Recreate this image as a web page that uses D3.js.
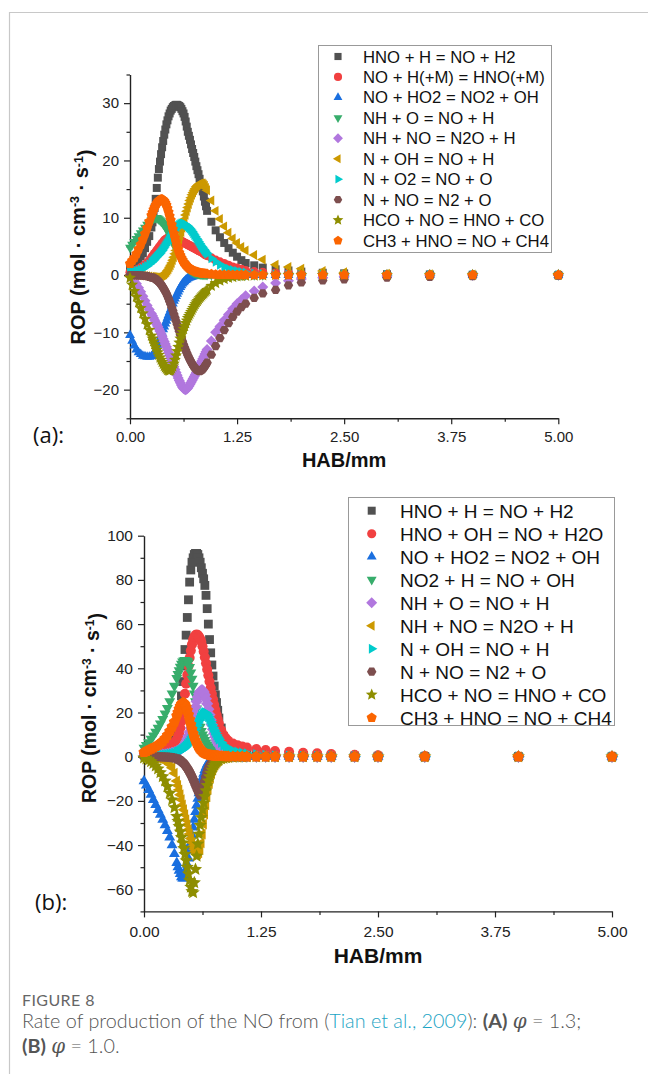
<!DOCTYPE html>
<html><head><meta charset="utf-8">
<script src="https://cdn.jsdelivr.net/npm/d3@7"></script>
<style>
html,body{margin:0;padding:0;background:#fff;}
svg{display:block;}
</style></head>
<body>
<svg id="chart" width="648" height="1074"></svg>
<script>
// ---------------- DATA ----------------
// HAB positions (mm) of the plotted points, panel (a)
const xA = [0,0.025,0.05,0.075,0.1,0.125,0.15,0.175,0.2,0.225,
  0.25,0.2625,0.275,0.2875,0.3,0.3125,0.325,0.3375,0.35,0.3625,0.375,0.3875,0.4,0.4125,0.425,0.4375,0.45,0.4625,0.475,0.4875,
  0.5,0.5125,0.525,0.5375,0.55,0.5625,0.575,0.5875,0.6,0.6125,0.625,0.6375,0.65,0.6625,0.675,0.6875,0.7,0.7125,0.725,0.7375,
  0.75,0.7625,0.775,0.7875,0.8,0.8125,0.825,0.8375,0.85,0.8625,0.875,0.8875,0.9,
  0.95,1.0,1.05,1.1,1.15,1.2,1.25,1.3,
  1.35,1.45,1.55,
  1.7,1.85,2.0,2.25,2.5,3.0,3.5,4.0,5.0];
// HAB positions (mm) of the plotted points, panel (b)
const xB = [0,0.025,0.05,0.075,0.1,0.125,0.15,0.175,0.2,0.225,0.25,0.275,0.3,0.325,
  0.35,0.3625,0.375,0.3875,0.4,0.4125,0.425,0.4375,0.45,0.4625,0.475,0.4875,0.5,0.5125,0.525,0.5375,0.55,0.5625,0.575,0.5875,
  0.6,0.6125,0.625,0.6375,0.65,0.6625,0.675,0.6875,0.7,0.7125,0.725,0.7375,0.75,0.7625,0.775,0.7875,0.8,
  0.825,0.85,0.875,0.9,
  0.95,1.0,1.05,1.1,
  1.2,1.3,1.4,
  1.55,1.7,1.85,2.0,2.25,2.5,3.0,4.0,5.0];

// Panel (a): phi = 1.3  (ROP values)
const A_HNO_H = [1.5,1.7,2.0,2.4,2.8,3.3,3.8,4.7,5.8,6.8,
  8.3,9.2,10.3,11.7,13.3,15.2,17.0,18.5,19.8,21.1,22.3,23.4,24.5,25.4,26.3,27.0,27.7,28.2,28.7,29.0,
  29.3,29.5,29.6,29.7,29.7,29.6,29.5,29.3,29.0,28.6,28.2,27.6,26.8,25.9,25.0,24.3,23.6,22.8,22.0,21.3,
  20.6,19.8,19.0,18.3,17.6,16.8,16.0,15.3,14.6,13.7,12.8,12.0,11.2,
  9.3,7.8,6.6,5.6,4.7,3.9,3.2,2.6,
  2.1,1.7,1.3,
  1.0,0.8,0.6,0.4,0.3,0.15,0.1,0.05,0];
const A_NO_H_M = [0.5,0.6,0.7,0.85,1.0,1.25,1.5,1.8,2.1,2.5,
  3.0,3.25,3.5,3.75,4.0,4.25,4.5,4.75,5.0,5.25,5.5,5.75,6.0,6.15,6.3,6.4,6.5,6.55,6.6,6.6,
  6.6,6.55,6.5,6.4,6.3,6.2,6.1,6.0,5.9,5.8,5.7,5.6,5.5,5.4,5.3,5.2,5.1,5.0,4.9,4.8,
  4.7,4.6,4.5,4.4,4.3,4.2,4.1,4.0,3.9,3.75,3.6,3.5,3.4,
  3.0,2.6,2.3,2.0,1.7,1.4,1.2,1.0,
  0.8,0.6,0.5,
  0.35,0.3,0.2,0.15,0.1,0.05,0.03,0.02,0];
const A_NO_HO2 = [-10.5,-11.5,-12.3,-13.0,-13.5,-13.8,-14.1,-14.2,-14.3,-14.3,
  -14.2,-14.0,-13.8,-13.5,-13.1,-12.7,-12.2,-11.7,-11.2,-10.7,-10.1,-9.5,-9.0,-8.5,-8.0,-7.5,-7.0,-6.5,-6.0,-5.5,
  -5.0,-4.5,-4.1,-3.7,-3.3,-2.9,-2.5,-2.1,-1.8,-1.5,-1.3,-1.1,-0.9,-0.75,-0.6,-0.5,-0.4,-0.35,-0.3,-0.25,
  -0.2,-0.17,-0.15,-0.12,-0.1,-0.09,-0.08,-0.07,-0.06,-0.05,-0.05,-0.04,-0.04,
  -0.03,-0.02,-0.02,-0.01,-0.01,0,0,0,
  0,0,0,
  0,0,0,0,0,0,0,0,0];
const A_NH_O = [4.8,5.3,5.8,6.3,6.8,7.3,7.8,8.3,8.8,9.2,
  9.6,9.75,9.9,9.97,10.0,9.97,9.9,9.75,9.6,9.4,9.2,8.95,8.7,8.4,8.1,7.75,7.4,7.0,6.6,6.2,
  5.8,5.4,5.0,4.6,4.2,3.8,3.4,3.05,2.7,2.4,2.1,1.85,1.6,1.4,1.2,1.05,0.9,0.75,0.6,0.5,
  0.4,0.35,0.3,0.25,0.2,0.17,0.15,0.12,0.1,0.09,0.08,0.07,0.06,
  0.05,0.04,0.03,0.02,0.02,0.01,0.01,0,
  0,0,0,
  0,0,0,0,0,0,0,0,0];
const A_NH_NO = [0,-0.4,-0.8,-1.5,-2.2,-2.9,-3.7,-4.5,-5.3,-6.0,
  -6.7,-7.1,-7.5,-7.9,-8.3,-8.65,-9.0,-9.4,-9.8,-10.25,-10.7,-11.15,-11.6,-12.05,-12.5,-13.0,-13.5,-14.0,-14.5,-15.0,
  -15.5,-16.0,-16.5,-17.0,-17.5,-17.95,-18.4,-18.8,-19.2,-19.55,-19.8,-19.95,-20.0,-19.9,-19.7,-19.4,-19.1,-18.75,-18.4,-18.05,
  -17.7,-17.35,-17.0,-16.6,-16.2,-15.8,-15.4,-15.0,-14.6,-14.2,-13.8,-13.4,-13.0,
  -11.5,-10.0,-9.0,-7.9,-6.9,-5.9,-5.0,-4.3,
  -3.6,-2.8,-2.1,
  -1.4,-1.0,-0.7,-0.45,-0.3,-0.15,-0.1,-0.05,0];
const A_N_OH = [0,0,0,-0.02,-0.05,-0.07,-0.1,-0.15,-0.2,-0.25,
  -0.3,-0.33,-0.35,-0.38,-0.4,-0.4,-0.4,-0.36,-0.3,-0.2,-0.1,0.0,0.1,0.3,0.5,0.75,1.0,1.35,1.7,2.1,
  2.6,3.1,3.7,4.3,4.9,5.55,6.2,6.85,7.5,8.25,9.0,9.75,10.5,11.15,11.8,12.4,13.0,13.5,14.0,14.4,
  14.8,15.1,15.4,15.6,15.8,15.9,16.0,16.0,16.0,15.8,15.6,15.2,14.8,
  13.0,11.2,9.8,8.5,7.4,6.4,5.6,4.9,
  4.3,3.5,2.7,
  1.8,1.4,1.1,0.7,0.5,0.25,0.15,0.1,0.05];
const A_N_O2 = [0.5,0.55,0.6,0.7,0.8,0.95,1.1,1.35,1.6,1.9,
  2.2,2.4,2.6,2.8,3.0,3.2,3.4,3.6,3.8,4.05,4.3,4.6,4.9,5.2,5.5,5.8,6.1,6.4,6.7,7.0,
  7.3,7.6,7.9,8.15,8.4,8.6,8.8,8.9,9.0,9.02,9.0,8.9,8.8,8.65,8.5,8.3,8.1,7.85,7.6,7.3,
  7.0,6.7,6.4,6.1,5.8,5.5,5.2,4.95,4.7,4.45,4.2,3.95,3.7,
  2.9,2.3,1.8,1.4,1.1,0.9,0.7,0.55,
  0.45,0.3,0.2,
  0.1,0.05,0.03,0.02,0.01,0,0,0,0];
const A_N_NO = [0,0,0,0,-0.05,-0.07,-0.1,-0.15,-0.2,-0.3,
  -0.4,-0.45,-0.5,-0.6,-0.7,-0.85,-1.0,-1.2,-1.4,-1.65,-1.9,-2.2,-2.5,-2.85,-3.2,-3.65,-4.1,-4.6,-5.1,-5.65,
  -6.2,-6.8,-7.4,-8.0,-8.6,-9.2,-9.8,-10.4,-11.0,-11.55,-12.1,-12.6,-13.1,-13.55,-14.0,-14.4,-14.8,-15.15,-15.5,-15.8,
  -16.1,-16.3,-16.5,-16.6,-16.7,-16.75,-16.7,-16.55,-16.4,-16.15,-15.9,-15.6,-15.3,
  -13.9,-12.4,-11.0,-9.6,-8.4,-7.3,-6.4,-5.6,
  -5.0,-4.0,-3.2,
  -2.6,-1.8,-1.3,-0.95,-0.75,-0.45,-0.3,-0.2,-0.1];
const A_HCO_NO = [-0.5,-1.7,-2.8,-3.8,-4.8,-5.8,-6.7,-7.7,-8.6,-9.6,
  -10.6,-11.1,-11.6,-12.1,-12.6,-13.05,-13.5,-13.95,-14.4,-14.8,-15.2,-15.55,-15.9,-16.15,-16.4,-16.6,-16.7,-16.7,-16.6,-16.35,
  -16.0,-15.45,-14.8,-14.05,-13.3,-12.55,-11.8,-11.1,-10.5,-9.95,-9.4,-8.9,-8.4,-7.95,-7.5,-7.15,-6.8,-6.45,-6.1,-5.75,
  -5.4,-5.1,-4.8,-4.55,-4.3,-4.05,-3.8,-3.6,-3.4,-3.2,-3.0,-2.8,-2.6,
  -1.9,-1.4,-1.0,-0.7,-0.5,-0.35,-0.25,-0.2,
  -0.15,-0.1,-0.05,
  0,0,0,0,0,0,0,0,0];
const A_CH3_HNO = [2.0,2.5,3.0,3.7,4.5,5.3,6.2,7.2,8.2,9.3,
  10.4,10.9,11.4,11.8,12.2,12.5,12.8,13.0,13.1,13.2,13.2,13.1,12.9,12.6,12.2,11.65,11.0,10.3,9.6,8.8,
  8.0,7.25,6.5,5.8,5.1,4.5,3.9,3.45,3.0,2.65,2.3,2.05,1.8,1.6,1.4,1.25,1.1,1.0,0.9,0.8,
  0.7,0.62,0.55,0.5,0.45,0.4,0.35,0.32,0.3,0.27,0.25,0.22,0.2,
  0.15,0.1,0.08,0.06,0.05,0.04,0.03,0.02,
  0.02,0.01,0.01,
  0,0,0,0,0,0,0,0,0];

// Panel (b): phi = 1.0  (ROP values)
const B_HNO_H = [1.0,1.15,1.3,1.5,1.7,2.0,2.3,2.7,3.2,3.8,4.6,5.6,6.8,8.3,
  10,13,17,22,27.5,34,41,48.5,55,63,71,79,84.5,88,90,91.5,92,92,91.5,90,
  88,85.5,83,80.5,77.5,73,67,60,53,47,41.5,36.5,32,28,24.5,21,17.5,
  13,9,6,4.5,
  3.2,2.6,2.2,1.9,
  1.4,1.1,0.9,
  0.7,0.55,0.45,0.35,0.25,0.2,0.1,0.05,0];
const B_HNO_OH = [1.5,1.75,2.0,2.25,2.5,2.75,3.0,3.3,3.6,4.0,4.5,5.0,5.6,6.5,
  7.8,9,10.5,13,16,19.8,24,28.5,33,37,41,44.8,48,50.8,53,54.3,55,55.3,55,54.4,
  53.5,52,50,47.6,45,42.3,39.5,36.8,34,31.2,28.5,26,23.5,21.2,19,17,15,
  12,9.8,8.3,7.2,
  5.9,5.2,4.6,4.1,
  3.5,3.0,2.6,
  2.2,1.8,1.5,1.2,0.9,0.6,0.3,0.1,0.05];
const B_NO_HO2 = [-11,-13,-15,-17.2,-19.5,-21.8,-24,-26.2,-28.5,-31,-33.5,-36.5,-40,-44,
  -48,-50,-51.5,-53,-54.5,-55,-55,-53.5,-51,-48.8,-46,-42.5,-39,-35.5,-32,-28.5,-25,-22,-19,-16.5,
  -14,-11.7,-9.5,-7.7,-6,-4.7,-3.5,-2.7,-2,-1.6,-1.2,-0.9,-0.7,-0.55,-0.4,-0.35,-0.3,
  -0.2,-0.15,-0.1,-0.1,
  -0.05,-0.05,0,0,
  0,0,0,
  0,0,0,0,0,0,0,0,0];
const B_NO2_H = [4,5.2,6.5,8,9.5,11.2,13,15,17,19.5,22,25,28.5,32,
  35.5,37.3,39,40.6,42,43,43.5,43.7,43.5,43.2,42.5,40.5,38,35.2,32,28.5,25,21.7,18.5,15.8,
  13.5,11.6,10,8.7,7.5,6.4,5.5,4.7,4.0,3.4,2.9,2.5,2.1,1.8,1.5,1.3,1.1,
  0.8,0.6,0.45,0.35,
  0.25,0.18,0.12,0.1,
  0.05,0.03,0.02,
  0,0,0,0,0,0,0,0,0];
const B_NH_O = [0.3,0.35,0.4,0.45,0.5,0.6,0.7,0.8,0.9,1.0,1.2,1.4,1.7,2.0,
  2.4,2.7,3.0,3.4,3.8,4.3,5.0,5.8,6.8,8.0,9.5,11.2,13,15.2,17.5,20,22.5,25,27,28.5,
  29.5,30,30,29.3,28,26.2,24,21.5,19,16.7,14.5,12.4,10.5,8.9,7.5,6.3,5.2,
  3.6,2.5,1.8,1.3,
  0.8,0.5,0.35,0.25,
  0.15,0.1,0.05,
  0,0,0,0,0,0,0,0,0];
const B_NH_NO = [0,-0.05,-0.1,-0.2,-0.3,-0.5,-0.7,-1.0,-1.3,-1.8,-2.5,-3.5,-5,-7.5,
  -11,-13,-15,-17.2,-19.5,-21.8,-24,-26.2,-28.5,-30.8,-33,-35,-37,-38.8,-40.5,-41.9,-43,-43.7,-44,-43.5,
  -42,-39,-35,-30.5,-26,-21.8,-18,-14.8,-12,-9.6,-7.5,-5.9,-4.5,-3.5,-2.7,-2.1,-1.6,
  -1.0,-0.6,-0.4,-0.3,
  -0.2,-0.1,-0.05,0,
  0,0,0,
  0,0,0,0,0,0,0,0,0];
const B_N_OH = [0.3,0.35,0.4,0.45,0.5,0.55,0.6,0.7,0.8,0.9,1.0,1.2,1.4,1.7,
  2.0,2.2,2.4,2.7,3.0,3.4,3.8,4.3,4.8,5.5,6.2,7.1,8,9.1,10.2,11.4,12.7,14,15.2,16.4,
  17.5,18.4,19.2,19.7,20,19.7,19,18.1,17,15.8,14.5,13.2,12,10.9,9.8,8.8,7.9,
  6.4,5.2,4.3,3.6,
  2.7,2.1,1.7,1.4,
  1.0,0.7,0.5,
  0.35,0.25,0.2,0.15,0.1,0.05,0,0,0];
const B_N_NO = [0,0,0,0,0,0,0,-0.05,-0.1,-0.15,-0.2,-0.3,-0.4,-0.6,
  -0.9,-1.1,-1.4,-1.7,-2.1,-2.6,-3.1,-3.7,-4.4,-5.2,-6.0,-7.0,-8.0,-9.1,-10.3,-11.5,-12.8,-14.0,-15.3,-16.4,
  -17.3,-17.2,-15,-13,-11,-9,-7,-5.5,-4.2,-3.3,-2.6,-2.1,-1.6,-1.3,-1.0,-0.8,-0.6,
  -0.4,-0.3,-0.2,-0.15,
  -0.1,-0.05,0,0,
  0,0,0,
  0,0,0,0,0,0,0,0,0];
const B_HCO_NO = [-0.5,-1.0,-1.5,-2.2,-3,-4.2,-5.5,-7.2,-9,-11,-13.5,-16.5,-19.5,-23,
  -27,-29.2,-31.5,-34,-36.5,-39,-41.5,-44.2,-47,-50,-53,-56,-59,-61,-61.5,-57,-51,-45,-39.5,-35,
  -31,-27.5,-24,-21,-18,-15.4,-13,-10.9,-9,-7.4,-6,-4.8,-3.8,-3.0,-2.3,-1.8,-1.4,
  -0.9,-0.6,-0.4,-0.3,
  -0.2,-0.1,-0.05,0,
  0,0,0,
  0,0,0,0,0,0,0,0,0];
const B_CH3_HNO = [2.0,2.5,3.0,3.5,4.0,4.6,5.3,6.1,7.0,8.2,9.7,11.5,13.5,15.7,
  18.5,20,21.5,22.8,23.8,24.3,24.3,23.6,22.5,21,19,16.8,14.5,12.4,10.5,8.8,7.3,6.1,5,4.1,
  3.4,2.8,2.3,1.9,1.6,1.3,1.1,0.95,0.8,0.7,0.6,0.52,0.45,0.4,0.35,0.32,0.3,
  0.25,0.2,0.15,0.1,
  0.08,0.05,0.04,0.03,
  0.02,0.01,0.01,
  0,0,0,0,0,0,0,0,0];

const labelsA = ["HNO + H = NO + H2","NO + H(+M) = HNO(+M)","NO + HO2 = NO2 + OH","NH + O = NO + H",
  "NH + NO = N2O + H","N + OH = NO + H","N + O2 = NO + O","N + NO = N2 + O","HCO + NO = HNO + CO","CH3 + HNO = NO + CH4"];
const labelsB = ["HNO + H = NO + H2","HNO + OH = NO + H2O","NO + HO2 = NO2 + OH","NO2 + H = NO + OH",
  "NH + O = NO + H","NH + NO = N2O + H","N + OH = NO + H","N + NO = N2 + O","HCO + NO = HNO + CO","CH3 + HNO = NO + CH4"];
const seriesA = [A_HNO_H,A_NO_H_M,A_NO_HO2,A_NH_O,A_NH_NO,A_N_OH,A_N_O2,A_N_NO,A_HCO_NO,A_CH3_HNO];
const seriesB = [B_HNO_H,B_HNO_OH,B_NO_HO2,B_NO2_H,B_NH_O,B_NH_NO,B_N_OH,B_N_NO,B_HCO_NO,B_CH3_HNO];

const xTicks = [0,1.25,2.5,3.75,5];
const xMinor = [0.625,1.875,3.125,4.375];
const yTicksA = [-20,-10,0,10,20,30];
const yMinorA = [-25,-15,-5,5,15,25,35];
const yTicksB = [-60,-40,-20,0,20,40,60,80,100];
const yMinorB = [-70,-50,-30,-10,10,30,50,70,90];

// ---------------- STYLE ----------------
const colors = ["#515151","#F14040","#1A6FDF","#37AD6B","#B177DE","#CC9900","#00CBCC","#7D4E4E","#8E8E00","#FB6501"];
const shapes = ["square","circle","up","down","diamond","left","right","hexagon","star","pentagon"];
const FONT = "'Liberation Sans', Arial, Helvetica, sans-serif";

function shapePath(type, s){
  const ring = (n, R, rot) => d3.range(n).map(i => { const a = rot + i*2*Math.PI/n; return [R*Math.cos(a), R*Math.sin(a)]; });
  const poly = p => "M" + p.map(q => q[0].toFixed(2) + "," + q[1].toFixed(2)).join("L") + "Z";
  switch(type){
    case "square": { const h = s*0.42; return `M${-h},${-h}H${h}V${h}H${-h}Z`; }
    case "circle": { const r = s*0.48; return `M${r},0A${r},${r} 0 1,1 ${-r},0A${r},${r} 0 1,1 ${r},0Z`; }
    case "up": return poly(ring(3, s*0.6, -Math.PI/2));
    case "down": return poly(ring(3, s*0.6, Math.PI/2));
    case "left": return poly(ring(3, s*0.6, Math.PI));
    case "right": return poly(ring(3, s*0.6, 0));
    case "diamond": return poly(ring(4, s*0.58, -Math.PI/2));
    case "hexagon": return poly(ring(6, s*0.5, 0));
    case "pentagon": return poly(ring(5, s*0.56, -Math.PI/2));
    case "star": { const p = []; for (let i = 0; i < 10; i++){ const R = i%2 ? s*0.3 : s*0.66; const a = -Math.PI/2 + i*Math.PI/5; p.push([R*Math.cos(a), R*Math.sin(a)]); } return poly(p); }
  }
}

const svg = d3.select("#chart");
svg.append("rect").attr("width",648).attr("height",1074).attr("fill","#fff");
// page frame
svg.append("path").attr("d","M9.5,1074V12.5H648").attr("fill","none").attr("stroke","#c8c8c8").attr("stroke-width",1.2);

const minusFmt = d => d < 0 ? "\u2212" + Math.abs(d) : String(d);

function drawPanel(cfg){
  const g = svg.append("g");
  const x = d3.scaleLinear().domain([0,5]).range([cfg.x0, cfg.x1]);
  const y = d3.scaleLinear().domain(cfg.yDomain).range([cfg.yBottom, cfg.yTop]);

  // axes
  g.append("g").attr("transform", `translate(${cfg.x0},0)`)
    .call(d3.axisLeft(y).tickValues(cfg.yTicks).tickSize(6).tickSizeOuter(0).tickPadding(5).tickFormat(minusFmt));
  const yMin = g.append("g").attr("transform", `translate(${cfg.x0},0)`)
    .call(d3.axisLeft(y).tickValues(cfg.yMinor).tickSize(3.5).tickFormat(""));
  yMin.select(".domain").remove();
  g.append("g").attr("transform", `translate(0,${cfg.yBottom})`)
    .call(d3.axisBottom(x).tickValues(xTicks).tickSize(6).tickSizeOuter(0).tickPadding(cfg.xPad).tickFormat(d3.format(".2f")));
  const xMin = g.append("g").attr("transform", `translate(0,${cfg.yBottom})`)
    .call(d3.axisBottom(x).tickValues(xMinor).tickSize(3.5).tickFormat(""));
  xMin.select(".domain").remove();
  g.selectAll(".domain").attr("stroke","#222").attr("stroke-width",1.4);
  g.selectAll(".tick line").attr("stroke","#222").attr("stroke-width",1.2);
  g.selectAll(".tick text").attr("font-family",FONT).attr("font-size",cfg.tickFont).attr("fill","#222");

  // series
  cfg.series.forEach((vals, i) => {
    g.append("g").selectAll("path").data(cfg.xs.map((xv, j) => [xv, vals[j]])).join("path")
      .attr("transform", d => `translate(${x(d[0]).toFixed(2)},${y(d[1]).toFixed(2)})`)
      .attr("d", shapePath(shapes[i], cfg.ms))
      .attr("fill", colors[i]);
  });

  // axis titles
  g.append("text").attr("x",(cfg.x0+cfg.x1)/2).attr("y",cfg.xTitleY).attr("text-anchor","middle")
    .attr("font-family",FONT).attr("font-weight","bold").attr("font-size",cfg.xTitleFont).attr("fill","#111").text("HAB/mm");
  const yt = g.append("text").attr("transform",`translate(${cfg.yTitleX},${cfg.yTitleY}) rotate(-90)`)
    .attr("text-anchor","middle").attr("font-family",FONT).attr("font-weight","bold").attr("font-size",cfg.yTitleFont).attr("fill","#111");
  yt.append("tspan").text("ROP (mol \u00b7 cm");
  yt.append("tspan").attr("dy","-0.45em").attr("font-size","0.62em").text("-3");
  yt.append("tspan").attr("dy","0.45em").text(" \u00b7 s");
  yt.append("tspan").attr("dy","-0.45em").attr("font-size","0.62em").text("-1");
  yt.append("tspan").attr("dy","0.45em").text(")");

  // panel tag
  g.append("text").attr("x",cfg.tagX).attr("y",cfg.tagY).attr("font-family","'Open Sans', 'Liberation Sans', sans-serif")
    .attr("font-size",cfg.tagFont).attr("fill","#111").text(cfg.tag);

  // legend
  const L = cfg.legend;
  g.append("rect").attr("x",L.x).attr("y",L.y).attr("width",L.w).attr("height",L.h)
    .attr("fill","#fff").attr("stroke","#999").attr("stroke-width",1);
  cfg.labels.forEach((lab, i) => {
    const cy = L.row0 + i*L.dy;
    g.append("path").attr("transform",`translate(${L.mx},${cy})`).attr("d",shapePath(shapes[i], L.ms)).attr("fill",colors[i]);
    g.append("text").attr("x",L.tx).attr("y",cy + L.font*0.36).attr("font-family",FONT).attr("font-size",L.font)
      .attr("fill","#111").text(lab);
  });
}

drawPanel({
  xs: xA, series: seriesA, labels: labelsA,
  x0: 130, x1: 558.3, yDomain: [-25,35], yBottom: 418.3, yTop: 74.5,
  yTicks: yTicksA, yMinor: yMinorA, xPad: 7, tickFont: 15, ms: 9.5,
  xTitleY: 467, xTitleFont: 20, yTitleX: 85, yTitleY: 247, yTitleFont: 20,
  tag: "(a):", tagX: 33, tagY: 443, tagFont: 22,
  legend: {x: 318.5, y: 45.5, w: 233, h: 207, row0: 56.5, dy: 20.45, mx: 338, tx: 363, font: 16.7, ms: 8.5}
});
drawPanel({
  xs: xB, series: seriesB, labels: labelsB,
  x0: 144, x1: 612, yDomain: [-70,100], yBottom: 911.4, yTop: 535.7,
  yTicks: yTicksB, yMinor: yMinorB, xPad: 9, tickFont: 15.5, ms: 10.5,
  xTitleY: 963, xTitleFont: 21, yTitleX: 96, yTitleY: 708, yTitleFont: 19.5,
  tag: "(b):", tagX: 35, tagY: 910, tagFont: 22,
  legend: {x: 348.5, y: 497.5, w: 266, h: 228, row0: 510.7, dy: 23, mx: 371.7, tx: 400, font: 19, ms: 9.5}
});

// caption
const CAP = "Lato, 'Open Sans', 'Liberation Sans', sans-serif";
svg.append("text").attr("x",22).attr("y",1006).attr("font-family",CAP).attr("font-size",16).attr("fill","#666")
  .attr("letter-spacing","0.4").text("FIGURE 8");
const c1 = svg.append("text").attr("x",22).attr("y",1028).attr("font-family",CAP).attr("font-weight",300).attr("font-size",19.8).attr("fill","#555");
c1.append("tspan").text("Rate of production of the NO from (");
c1.append("tspan").attr("fill","#1ba4c4").text("Tian et al., 2009");
c1.append("tspan").text("): ");
c1.append("tspan").attr("font-weight",700).text("(A)");
c1.append("tspan").text(" ");
c1.append("tspan").attr("font-family","'DejaVu Serif', serif").attr("font-style","italic").text("\u03c6");
c1.append("tspan").text(" = 1.3;");
const c2 = svg.append("text").attr("x",22).attr("y",1053).attr("font-family",CAP).attr("font-weight",300).attr("font-size",19.8).attr("fill","#555");
c2.append("tspan").attr("font-weight",700).text("(B)");
c2.append("tspan").text(" ");
c2.append("tspan").attr("font-family","'DejaVu Serif', serif").attr("font-style","italic").text("\u03c6");
c2.append("tspan").text(" = 1.0.");
</script>
</body></html>
